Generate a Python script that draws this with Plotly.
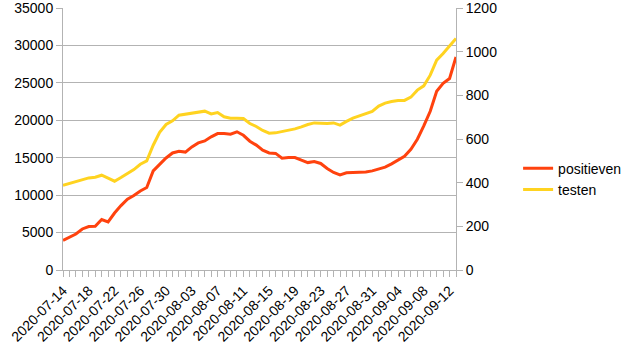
import plotly.graph_objects as go
import pandas as pd

dates = pd.date_range("2020-07-14", "2020-09-13", freq="D").strftime("%Y-%m-%d").tolist()

testen = [11320, 11590, 11860, 12130, 12300, 12390, 12660, 12260, 11860, 12350,
          12890, 13420, 14130, 14570, 16670, 18400, 19440, 19920, 20680, 20820,
          21040, 21090, 21220, 20860, 21040, 20460, 20280, 20280, 20240, 19570,
          19170, 18640, 18280, 18320, 18500, 18640, 18850, 19120, 19440, 19650,
          19570, 19570, 19650, 19350, 19850, 20280, 20590, 20910, 21180, 21890,
          22290, 22510, 22650, 22650, 23090, 24030, 24600, 26030, 28040, 28930,
          29950, 30940]

positieven = [136, 150, 165, 188, 199, 200, 231, 220, 261, 295,
              324, 341, 362, 378, 454, 484, 513, 536, 544, 540,
              564, 582, 591, 610, 625, 625, 622, 633, 617, 590,
              572, 549, 536, 534, 512, 515, 515, 503, 492, 497,
              488, 465, 447, 436, 445, 447, 447, 449, 454, 462,
              471, 486, 504, 521, 553, 599, 660, 727, 819, 855,
              877, 976]

font = dict(family="Liberation Sans, Arial, sans-serif", size=14, color="#000000")
grey = "#b3b3b3"

fig = go.Figure()
fig.add_trace(go.Scatter(x=dates, y=positieven, name="positieven", mode="lines",
                         line=dict(color="#ff420e", width=3), yaxis="y2"))
fig.add_trace(go.Scatter(x=dates, y=testen, name="testen", mode="lines",
                         line=dict(color="#ffd320", width=3), yaxis="y"))

fig.update_layout(
    width=636, height=358,
    margin=dict(l=63, r=180, t=8, b=88, autoexpand=False),
    paper_bgcolor="white", plot_bgcolor="white",
    font=font,
    separators=".",
    showlegend=True,
    legend=dict(x=1.158, y=0.347, xanchor="left", yanchor="middle",
                font=font, bgcolor="rgba(0,0,0,0)", traceorder="normal",
                tracegroupgap=0, itemwidth=30),
    xaxis=dict(type="date", range=[dates[0], dates[-1]], automargin=False,
               tick0=dates[0], dtick=4 * 86400000, tickformat="%Y-%m-%d",
               tickangle=-45, ticks="outside", ticklen=6, tickcolor=grey,
               showline=True, linecolor=grey, linewidth=1, showgrid=False,
               zeroline=False, tickfont=font, ticklabeloverflow="allow",
               minor=dict(dtick=86400000, tick0=dates[0], ticks="outside",
                          ticklen=6, tickcolor=grey, showgrid=False)),
    yaxis=dict(range=[0, 35000], dtick=5000, ticks="outside", ticklen=6,
               tickformat="d", automargin=False, ticklabeloverflow="allow",
               tickcolor=grey, showline=True, linecolor=grey, linewidth=1,
               showgrid=True, gridcolor=grey, gridwidth=1, zeroline=False,
               tickfont=font),
    yaxis2=dict(range=[0, 1200], dtick=200, overlaying="y", side="right",
                tickformat="d", automargin=False, ticklabeloverflow="allow",
                ticks="outside", ticklen=6, tickcolor=grey, showline=True,
                linecolor=grey, linewidth=1, showgrid=False, zeroline=False,
                tickfont=font),
)

fig.write_html("out.html", config={"displayModeBar": False},
               post_script="document.body.style.margin='0';document.body.style.overflow='hidden';")
